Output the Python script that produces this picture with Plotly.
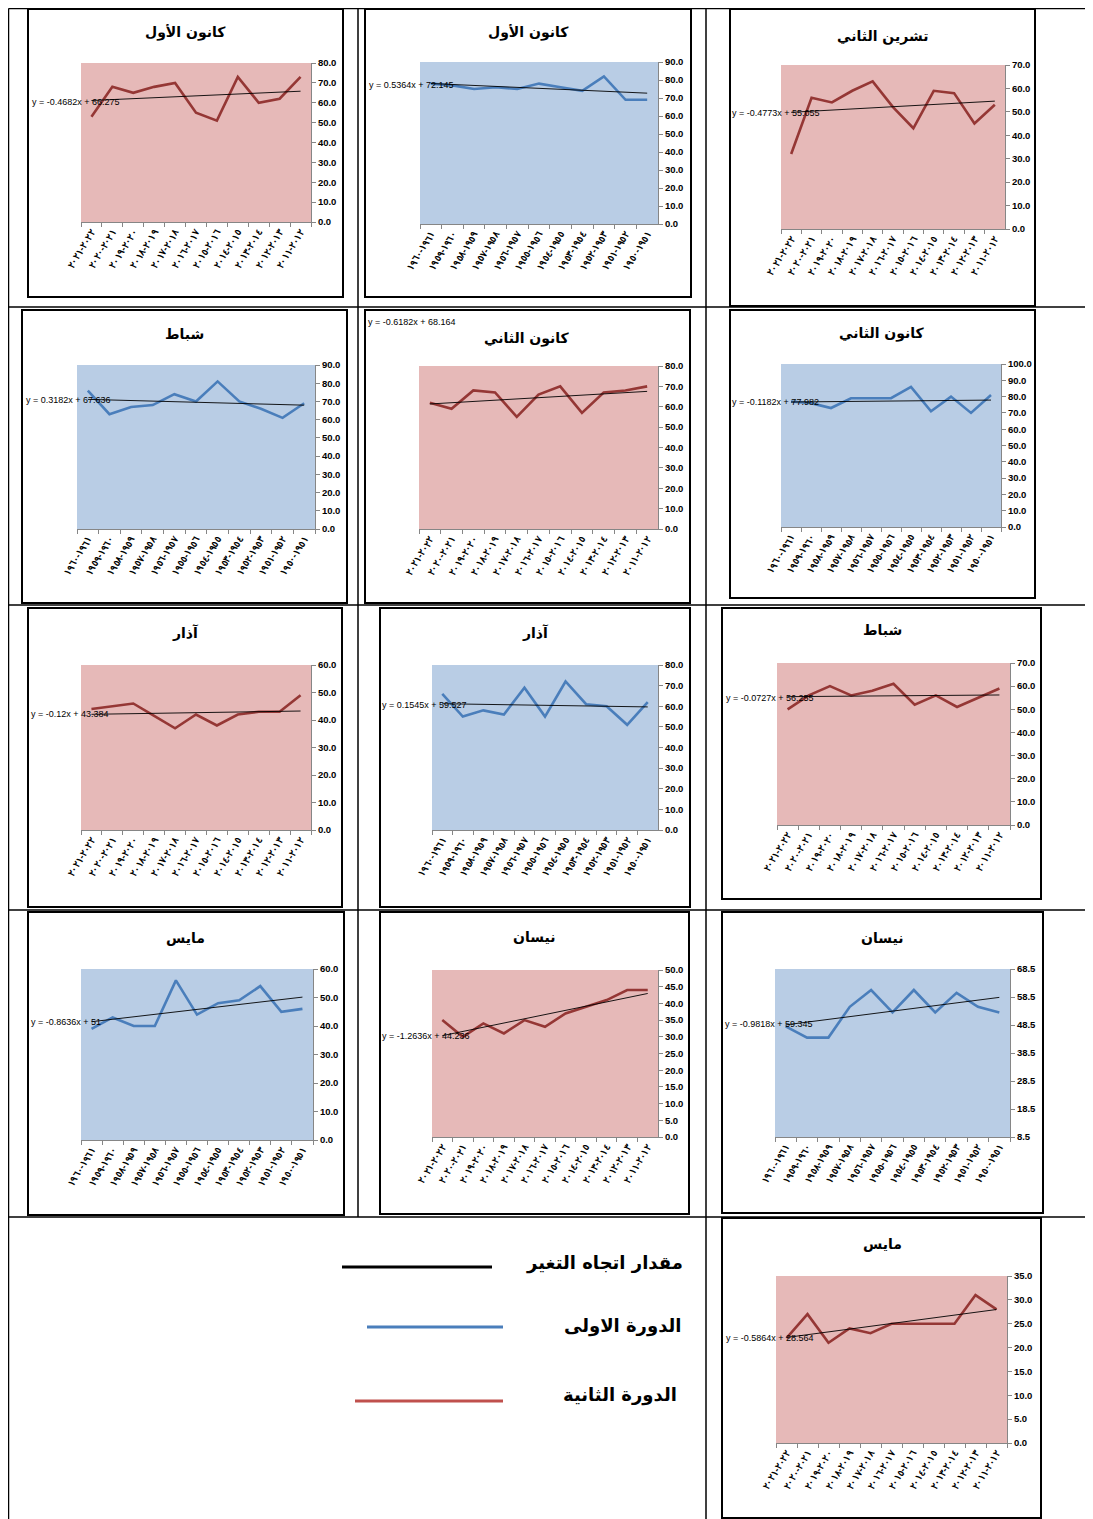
import plotly.graph_objects as go

W, H = 1093, 1519
OFF = 8  # page body margin in the browser

# ---------------- data ----------------
red_labels = ["٢٠٢١-٢٠٢٢", "٢٠٢٠-٢٠٢١", "٢٠١٩-٢٠٢٠", "٢٠١٨-٢٠١٩", "٢٠١٧-٢٠١٨", "٢٠١٦-٢٠١٧",
              "٢٠١٥-٢٠١٦", "٢٠١٤-٢٠١٥", "٢٠١٣-٢٠١٤", "٢٠١٢-٢٠١٣", "٢٠١١-٢٠١٢"]
blue_labels = ["١٩٦٠-١٩٦١", "١٩٥٩-١٩٦٠", "١٩٥٨-١٩٥٩", "١٩٥٧-١٩٥٨", "١٩٥٦-١٩٥٧", "١٩٥٥-١٩٥٦",
               "١٩٥٤-١٩٥٥", "١٩٥٣-١٩٥٤", "١٩٥٢-١٩٥٣", "١٩٥١-١٩٥٢", "١٩٥٠-١٩٥١"]

titles = ["كانون الأول", "كانون الأول", "تشرين الثاني",
          "شباط", "كانون الثاني", "كانون الثاني",
          "آذار", "آذار", "شباط",
          "مايس", "نيسان", "نيسان",
          "مايس"]
period = ["second", "first", "second",
          "first", "second", "first",
          "second", "first", "second",
          "first", "second", "first",
          "second"]

values_1 = [53, 68, 65, 68, 70, 55, 51, 73, 60, 62, 73]
values_2 = [78, 77, 75, 76, 75, 78, 76, 74, 82, 69, 69]
values_3 = [32, 56, 54, 59, 63, 52, 43, 59, 58, 45, 53]
values_4 = [76, 63, 67, 68, 74, 70, 81, 70, 66, 61, 69]
values_5 = [62, 59, 68, 67, 55, 66, 70, 57, 67, 68, 70]
values_6 = [77, 76, 73, 79, 79, 79, 86, 71, 80, 70, 81]
values_7 = [44, 45, 46, 41.5, 37, 42, 38, 42, 43, 43, 49]
values_8 = [66, 55, 58, 56, 69, 55, 72, 61, 60, 51, 62]
values_9 = [50, 56, 60, 56, 58, 61, 52, 56, 51, 55, 59]
values_10 = [39, 43, 40, 40, 56, 44, 48, 49, 54, 45, 46]
values_11 = [35, 30, 34, 31, 35, 33, 37, 39, 41, 44, 44]
values_12 = [48, 44, 44, 55, 61, 53, 61, 53, 60, 55, 53]
values_13 = [22, 27, 21, 24, 23, 25, 25, 25, 25, 31, 28]
all_values = [values_1, values_2, values_3, values_4, values_5, values_6, values_7,
              values_8, values_9, values_10, values_11, values_12, values_13]

# trend equations as printed (x counted from the right-hand category)
slopes = [-0.4682, 0.5364, -0.4773, 0.3182, -0.6182, -0.1182, -0.12, 0.1545,
          -0.0727, -0.8636, -1.2636, -0.9818, -0.5864]
intercepts = [66.275, 72.145, 55.055, 67.636, 68.164, 77.982, 43.384, 59.527,
              56.255, 51, 44.236, 59.345, 28.564]
eq_texts = ["y = -0.4682x + 66.275", "y = 0.5364x + 72.145", "y = -0.4773x + 55.055",
            "y = 0.3182x + 67.636", "y = -0.6182x + 68.164", "y = -0.1182x + 77.982",
            "y = -0.12x + 43.384", "y = 0.1545x + 59.527", "y = -0.0727x + 56.255",
            "y = -0.8636x + 51", "y = -1.2636x + 44.236", "y = -0.9818x + 59.345",
            "y = -0.5864x + 28.564"]

y_min = [0, 0, 0, 0, 0, 0, 0, 0, 0, 0, 0, 8.5, 0]
y_max = [80, 90, 70, 90, 80, 100, 60, 80, 70, 60, 50, 68.5, 35]
y_step = [10, 10, 10, 10, 10, 10, 10, 10, 10, 10, 5, 10, 5]

legend_texts = ["مقدار اتجاه التغير", "الدورة الاولى", "الدورة الثانية"]

# ---------------- layout (page-pixel geometry) ----------------
plot_px = [(81, 311, 63, 222), (420, 658, 62, 224), (781, 1005, 65, 229),
           (77, 315, 365, 529), (419, 658, 366, 529), (781, 1001, 364, 527),
           (81, 311, 665, 830), (432, 658, 665, 830), (777, 1010, 663, 825),
           (81, 313, 969, 1140), (432, 658, 970, 1137), (775, 1010, 969, 1137),
           (776, 1007, 1276, 1443)]
frame_px = [(28, 343, 9, 297), (365, 691, 9, 297), (730, 1035, 9, 306),
            (22, 347, 310, 603), (365, 690, 310, 603), (730, 1035, 310, 598),
            (28, 342, 608, 907), (380, 690, 608, 907), (722, 1041, 608, 899),
            (28, 344, 912, 1215), (380, 689, 912, 1214), (722, 1043, 912, 1213),
            (722, 1041, 1218, 1518)]
title_px = [(185, 33), (528, 33), (882, 36), (184, 334), (527, 338), (882, 334),
            (185, 632), (535, 632), (882, 630), (185, 938), (534, 937), (882, 938),
            (882, 1244)]
eq_px = [(30, 102), (367, 85), (730, 113), (24, 400), (366, 322), (730, 402),
         (29, 714), (380, 705), (724, 698), (29, 1022), (380, 1036), (723, 1024),
         (724, 1338)]

RED_BG, BLUE_BG = "#E6B9B8", "#B9CDE5"
RED_LINE, BLUE_LINE = "#953735", "#4A7EBB"
AX = "#868686"
NARROW = "Liberation Sans, Arial, sans-serif"
AR = "DejaVu Sans, sans-serif"

FW, FH = W - OFF, H - OFF

def px(x):
    return (x - OFF) / FW

def py(y):
    return 1 - (y - OFF) / FH

def disp(lbl):
    # keep the visual order of the two years (left to right)
    return lbl.replace("-", "\u200e-\u200e")

fig = go.Figure()
shapes = []
annotations = []

for i in range(13):
    k = i + 1
    xs = "" if k == 1 else str(k)
    vals = all_values[i]
    labels = red_labels if period[i] == "second" else blue_labels
    cats = [disp(l) for l in labels]
    n = len(vals)
    line_col = RED_LINE if period[i] == "second" else BLUE_LINE
    bg = RED_BG if period[i] == "second" else BLUE_BG

    fig.add_trace(go.Scatter(x=cats, y=vals, mode="lines", xaxis="x" + xs, yaxis="y" + xs,
                             line=dict(color=line_col, width=2.6), showlegend=False,
                             hoverinfo="x+y"))
    trend = [slopes[i] * (n - j) + intercepts[i] for j in range(n)]
    fig.add_trace(go.Scatter(x=cats, y=trend, mode="lines", xaxis="x" + xs, yaxis="y" + xs,
                             line=dict(color="black", width=0.9), showlegend=False,
                             hoverinfo="skip"))

    x0, x1, y0, y1 = plot_px[i]
    fig.layout["xaxis" + xs] = dict(
        domain=[px(x0), px(x1)], anchor="y" + xs, type="category",
        categoryorder="array", categoryarray=cats, automargin=False,
        range=[-0.5, n - 0.5], tickson="boundaries", ticks="outside", ticklen=4,
        tickcolor=AX, showline=True, linecolor=AX, linewidth=1, showgrid=False,
        zeroline=False, tickangle=-58,
        tickfont=dict(family=NARROW, size=9.5, color="black", weight="bold"),
        fixedrange=True)
    fig.layout["yaxis" + xs] = dict(
        domain=[py(y1), py(y0)], anchor="x" + xs, side="right", automargin=False,
        range=[y_min[i], y_max[i]], tick0=y_min[i], dtick=y_step[i], tickformat=".1f",
        ticks="outside", ticklen=4, tickcolor=AX, showline=True, linecolor=AX,
        linewidth=1, showgrid=False, zeroline=False,
        tickfont=dict(family=NARROW, size=9.5, color="black", weight="bold"),
        fixedrange=True)

    xd = ("x" if k == 1 else "x" + xs) + " domain"
    yd = ("y" if k == 1 else "y" + xs) + " domain"
    shapes.append(dict(type="rect", xref=xd, yref=yd, x0=0, x1=1, y0=0, y1=1,
                       fillcolor=bg, line=dict(width=0), layer="below"))
    fx0, fx1, fy0, fy1 = frame_px[i]
    shapes.append(dict(type="rect", xref="paper", yref="paper", x0=px(fx0), x1=px(fx1),
                       y0=py(fy1), y1=py(fy0), line=dict(color="black", width=2),
                       fillcolor="rgba(0,0,0,0)"))
    tx, ty = title_px[i]
    annotations.append(dict(text="<b>" + titles[i] + "</b>", x=px(tx), y=py(ty),
                            xref="paper", yref="paper", showarrow=False,
                            xanchor="center", yanchor="middle",
                            font=dict(family=AR, size=14, color="black")))
    ex, ey = eq_px[i]
    annotations.append(dict(text=eq_texts[i], x=px(ex), y=py(ey), xref="paper",
                            yref="paper", showarrow=False, xanchor="left",
                            yanchor="middle",
                            font=dict(family=NARROW, size=9, color="black")))

# table grid
grid = [((8.5, 8.5), (8.5, 1519)), ((358, 8.5), (358, 1217)), ((706, 8.5), (706, 1519)),
        ((8.5, 8.5), (1093, 8.5)), ((8.5, 307), (1093, 307)), ((8.5, 605), (1093, 605)),
        ((8.5, 910), (1093, 910)), ((8.5, 1217), (1093, 1217))]
for (a, b) in grid:
    shapes.append(dict(type="line", xref="paper", yref="paper", x0=px(a[0]), y0=py(a[1]),
                       x1=px(b[0]), y1=py(b[1]), line=dict(color="black", width=1.5)))

# legend (drawn in the bottom-left merged cell)
leg_lines = [(342, 492, 1267, "black"), (367, 503, 1327, BLUE_LINE), (355, 503, 1401, "#C0504D")]
leg_text_px = [(685, 1263), (684, 1326), (679, 1395)]
for (lx0, lx1, ly, col), txt, (tx, ty) in zip(leg_lines, legend_texts, leg_text_px):
    shapes.append(dict(type="line", xref="paper", yref="paper", x0=px(lx0), x1=px(lx1),
                       y0=py(ly), y1=py(ly), line=dict(color=col, width=3)))
    annotations.append(dict(text="<b>" + txt + "</b>", x=px(tx), y=py(ty), xref="paper",
                            yref="paper", showarrow=False, xanchor="right",
                            yanchor="middle", font=dict(family=AR, size=18, color="black")))

fig.update_layout(width=FW, height=FH, margin=dict(l=0, r=0, t=0, b=0, autoexpand=False),
                  paper_bgcolor="white", plot_bgcolor="rgba(0,0,0,0)",
                  shapes=shapes, annotations=annotations, showlegend=False)

fig.write_html("out.html")
